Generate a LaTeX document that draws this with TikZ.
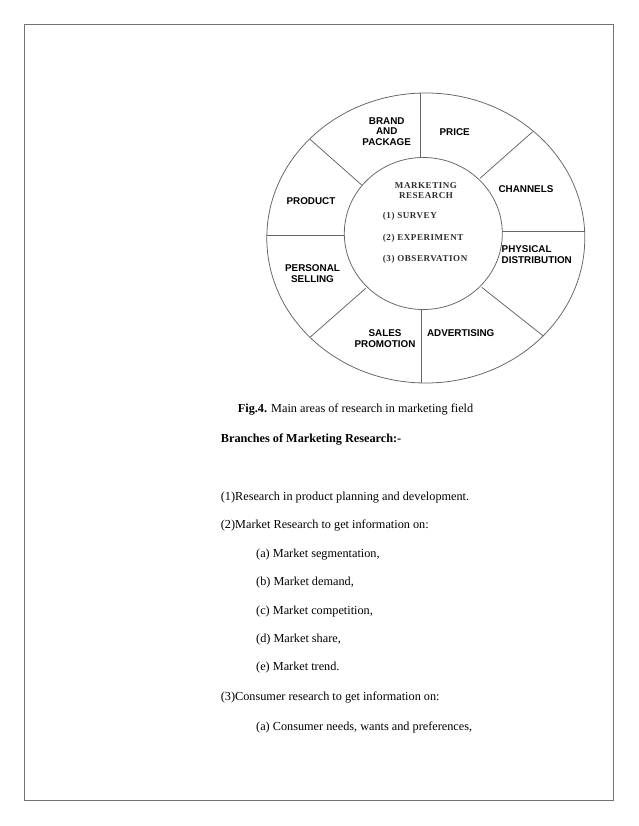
\documentclass[tikz,border=0pt]{standalone}
\usepackage{fontspec}
\setmainfont{Liberation Serif}
\newfontfamily\labelfont{Liberation Sans}
\newfontfamily\wheelfont[LetterSpace=6]{Liberation Serif}

\begin{document}
\begin{tikzpicture}[x=0.96bp,y=-0.96bp,
  rim/.style={black!60,line width=0.75},
  area/.style={font=\labelfont\bfseries\fontsize{9.5}{10.4}\selectfont,align=center,inner sep=0pt},
  method/.style={font=\wheelfont\bfseries\fontsize{8.7}{10}\selectfont,text=black!82,inner sep=0pt},
  body/.style={font=\fontsize{11.8}{14}\selectfont,anchor=base west,inner sep=0pt}]
  \useasboundingbox (0,0) rectangle (638,826);
  \draw[black!55,line width=1.2] (24.5,24.5) rectangle (613.5,800.5);

  % the wheel
  \draw[rim] (425.8,238) ellipse [x radius=159,y radius=145];
  \draw[rim] (423.3,233.5) ellipse [x radius=79,y radius=76];
  \foreach \ax/\ay/\bx/\by in {420.7/157.7/420.7/93, 480/178.3/532.7/131.7,
      502/231.7/585/231.7, 481.7/287.3/543.3/336, 421.7/309/421.7/383,
      365.7/288.3/310/337.3, 344/235/266.7/235, 361.7/185/310/139.3}
    \draw[rim] (\ax,\ay) -- (\bx,\by);

  % outer areas
  \node[area] (brand) at (386.7,131.5) {BRAND\\AND\\PACKAGE};
  \node[area] (price) at (454.7,132.3) {PRICE};
  \node[area] (channels) at (526,189.3) {CHANNELS};
  \node[area,align=left,anchor=west] (physical) at (501.5,254.7) {PHYSICAL\\DISTRIBUTION};
  \node[area] (advert) at (460.7,333.3) {ADVERTISING};
  \node[area] (sales) at (385,338.7) {SALES\\PROMOTION};
  \node[area] (selling) at (312.5,273.7) {PERSONAL\\SELLING};
  \node[area] (product) at (311,200.7) {PRODUCT};

  % centre
  \node[method,align=center] (mr) at (426,190.3) {MARKETING\\RESEARCH};
  \node[method,anchor=west] (survey) at (382.7,216.7) {(1) SURVEY};
  \node[method,anchor=west] (experiment) at (382.7,238.3) {(2) EXPERIMENT};
  \node[method,anchor=west] (observation) at (382.7,259.3) {(3) OBSERVATION};

  % text below
  \node[body] (caption) at (237.7,412) {\textbf{Fig.4.} Main areas of research in marketing field};
  \node[body,font=\bfseries\fontsize{11.8}{14}\selectfont] (branches) at (220.7,442.5) {Branches of Marketing Research:-};
  \node[body] (one) at (220.7,500) {(1)Research in product planning and development.};
  \node[body] (two) at (220.7,528.3) {(2)Market Research to get information on:};
  \node[body] (twoa) at (256,557) {(a) Market segmentation,};
  \node[body] (twob) at (256,585.7) {(b) Market demand,};
  \node[body] (twoc) at (256,614) {(c) Market competition,};
  \node[body] (twod) at (256,642.3) {(d) Market share,};
  \node[body] (twoe) at (256,670.7) {(e) Market trend.};
  \node[body] (three) at (220.7,700.7) {(3)Consumer research to get information on:};
  \node[body] (threea) at (256,730.7) {(a) Consumer needs, wants and preferences,};
\end{tikzpicture}
\end{document}
